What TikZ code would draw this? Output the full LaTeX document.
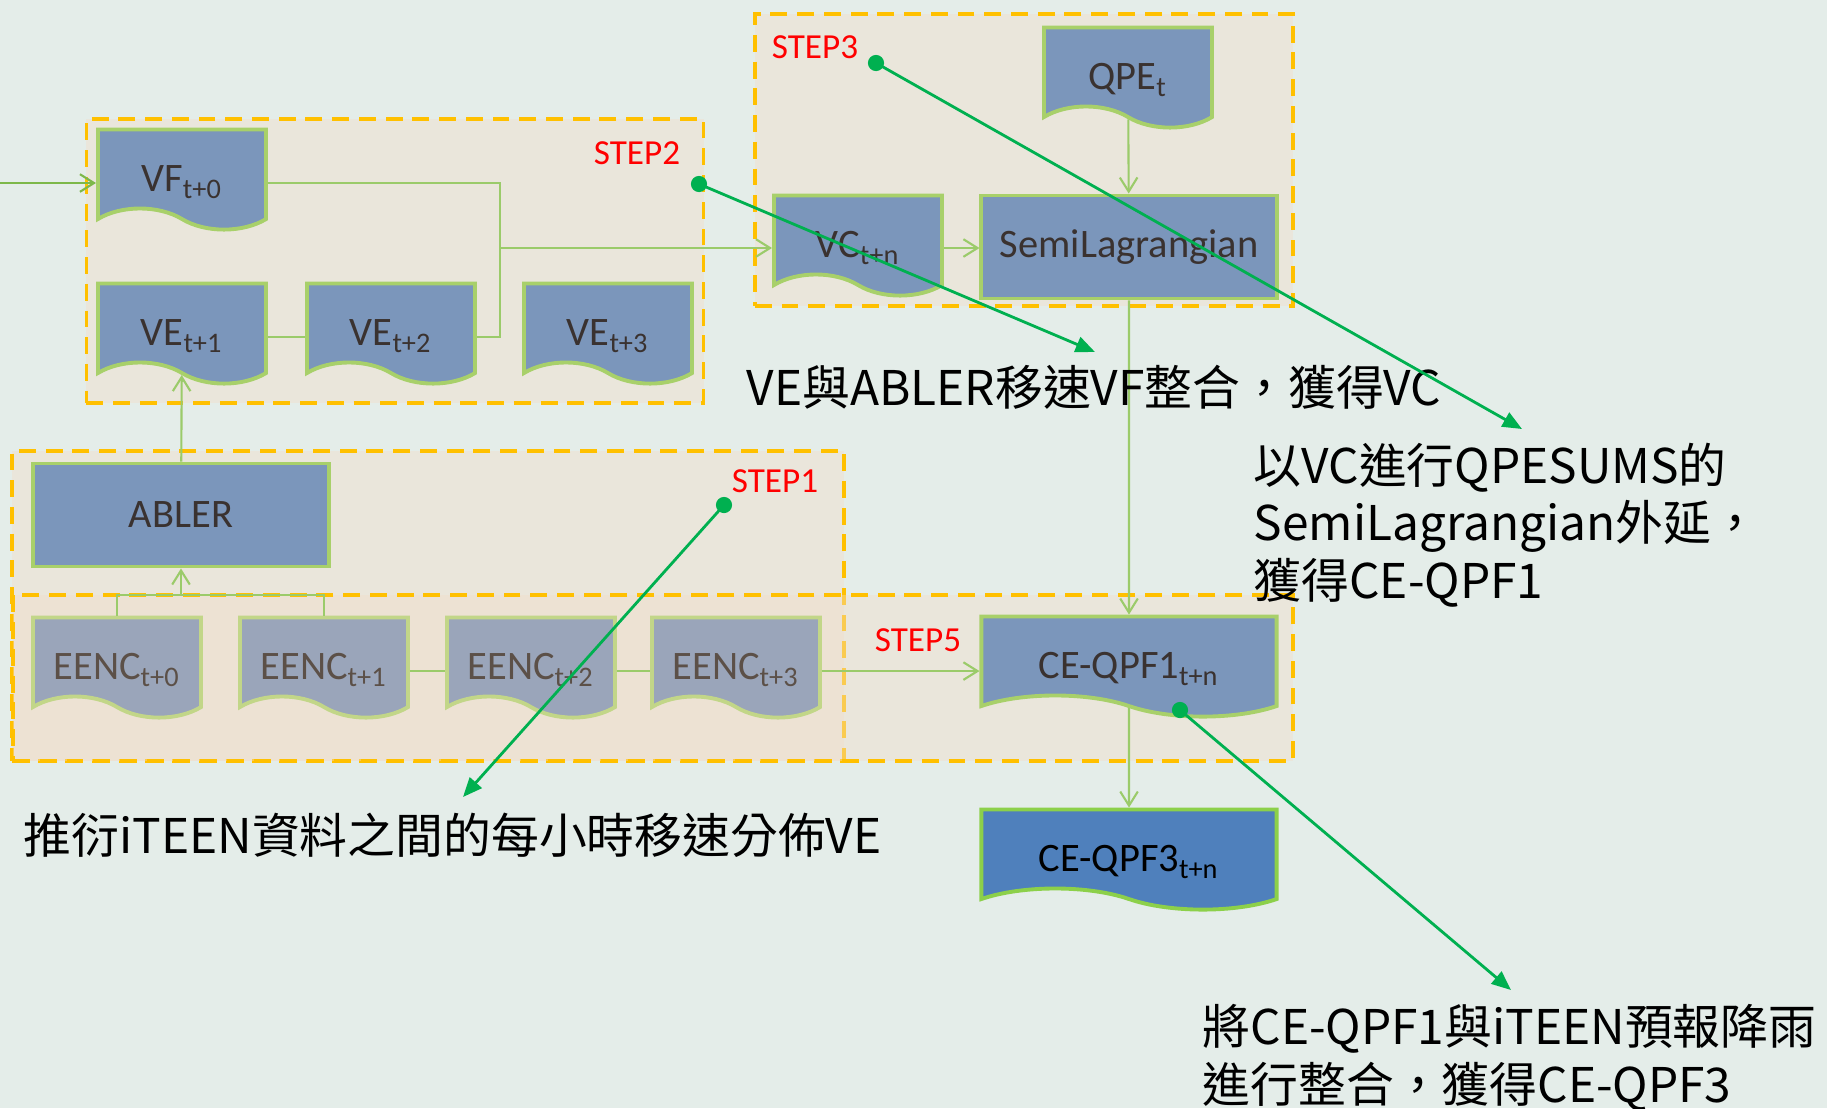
\documentclass[tikz,border=0pt]{standalone}
\usepackage{fontspec}
\setmainfont{Carlito}
\newfontfamily\cjkfont{Noto Sans CJK TC}
\usetikzlibrary{positioning,arrows.meta,shapes.symbols}
\definecolor{pagebg}{RGB}{228,237,233}
\definecolor{stepfill}{RGB}{243,220,200}
\definecolor{steporange}{RGB}{255,192,0}
\definecolor{stepred}{RGB}{255,0,0}
\definecolor{nodeblue}{RGB}{123,150,187}
\definecolor{eencblue}{RGB}{154,165,186}
\definecolor{qpfblue}{RGB}{79,128,188}
\definecolor{edgegreen}{RGB}{168,208,106}
\definecolor{eencedge}{RGB}{194,214,136}
\definecolor{qpfedge}{RGB}{140,208,74}
\definecolor{linkgreen}{RGB}{155,203,106}
\definecolor{feedgreen}{RGB}{125,184,74}
\definecolor{calloutgreen}{RGB}{0,176,80}
\definecolor{textgray}{RGB}{58,50,48}
\definecolor{eenctext}{RGB}{92,80,72}

\begin{document}
\begin{tikzpicture}[x=0.01cm,y=-0.01cm,
    every node/.style={font=\fontsize{11.5}{13}\selectfont},
    stepbox/.style={draw=steporange,line width=1pt,dash pattern=on 4.8pt off 2.8pt,fill=stepfill,fill opacity=0.4,draw opacity=1,inner sep=0pt},
    steplabel/.style={text=stepred,font=\fontsize{10}{12}\selectfont},
    docnode/.style={tape,tape bend top=none,tape bend bottom=out and in,tape bend height=6pt,draw=edgegreen,line width=1.1pt,fill=nodeblue,text=textgray,minimum width=1.68cm,minimum height=1cm,inner sep=1pt,text height=13pt,text depth=0pt},
    eencnode/.style={docnode,draw=eencedge,fill=eencblue,text=eenctext},
    boxnode/.style={rectangle,draw=edgegreen,line width=1.1pt,fill=nodeblue,text=textgray,minimum width=2.95cm,minimum height=1.03cm},
    link/.style={draw=linkgreen,line width=0.6pt},
    linkarrow/.style={link,-{Straight Barb[length=4pt,width=5pt]}},
    callout/.style={draw=calloutgreen,line width=0.8pt,-{Triangle[length=5.5pt,width=4.5pt]}},
    remark/.style={font=\cjkfont\fontsize{13.6}{16.4}\selectfont,text=black,inner sep=0pt,align=left}]
  \useasboundingbox (0,0) rectangle (1827,1108);
  \fill[pagebg] (0,0) rectangle (1827,1108);

  % step frames
  \node[stepbox,minimum width=8.32cm,minimum height=3.10cm] (step1box) at (428,606) {};
  \node[stepbox,minimum width=12.79cm,minimum height=1.66cm] (step5box) at (653,678) {};
  \node[stepbox,minimum width=6.17cm,minimum height=2.84cm] (step2box) at (395,261) {};
  \node[stepbox,minimum width=5.38cm,minimum height=2.92cm] (step3box) at (1024,160) {};
  \node[steplabel] (step1lbl) at (775,481) {STEP1};
  \node[steplabel] (step2lbl) at (637,153) {STEP2};
  \node[steplabel] (step3lbl) at (815,47) {STEP3};
  \node[steplabel] (step5lbl) at (918,640) {STEP5};

  % step 2
  \node[docnode] (vf) at (182,169) {VF\textsubscript{t+0}};
  \node[docnode] (ve1) at (182,323) {VE\textsubscript{t+1}};
  \node[docnode] (ve2) at (391,323) {VE\textsubscript{t+2}};
  \node[docnode] (ve3) at (608,323) {VE\textsubscript{t+3}};

  % step 3
  \node[docnode] (qpe) at (1128,67) {QPE\textsubscript{t}};
  \node[docnode] (vc) at (858,235) {VC\textsubscript{t+n}};
  \node[boxnode] (semi) at (1129,247) {SemiLagrangian};

  % step 1
  \node[boxnode] (abler) at (181,515) {ABLER};
  \node[eencnode] (eenc0) at (117,657) {EENC\textsubscript{t+0}};
  \node[eencnode] (eenc1) at (324,657) {EENC\textsubscript{t+1}};
  \node[eencnode] (eenc2) at (531,657) {EENC\textsubscript{t+2}};
  \node[eencnode] (eenc3) at (736,657) {EENC\textsubscript{t+3}};

  % step 5
  \node[docnode,minimum width=2.95cm] (qpf1) at (1129,656) {CE-QPF1\textsubscript{t+n}};
  \node[docnode,minimum width=2.95cm,fill=qpfblue,draw=qpfedge,text=black] (qpf3) at (1129,849) {CE-QPF3\textsubscript{t+n}};

  % links
  \coordinate (feed) at (0,183);
  \coordinate (vjoin) at (500,248);
  \coordinate (ejoin) at (181,595);
  \draw[linkarrow,draw=feedgreen] (feed) -- (feed -| vf.west);
  \draw[link] ([yshift=-4pt]vf.east) -| (vjoin);
  \draw[link] ([yshift=-4pt]ve2.east) -| (vjoin);
  \draw[link] ([yshift=-4pt]ve1.east) -- ([yshift=-4pt]ve2.west);
  \draw[linkarrow] (vjoin) -- (vjoin -| vc.west);
  \draw[linkarrow] (vjoin -| vc.east) -- (vjoin -| semi.west);
  \draw[linkarrow] (qpe) -- (semi);
  \draw[linkarrow] (semi) -- (qpf1);
  \draw[linkarrow] (qpf1) -- (qpf3);
  \draw[linkarrow] (abler) -- (ve1);
  \draw[link] (eenc0.north) |- (ejoin) -| (eenc1.north);
  \draw[linkarrow] (ejoin) -- (abler);
  \draw[link] ([yshift=-4pt]eenc1.east) -- ([yshift=-4pt]eenc2.west);
  \draw[link] ([yshift=-4pt]eenc2.east) -- ([yshift=-4pt]eenc3.west);
  \draw[linkarrow] ([yshift=-4pt]eenc3.east) -- ([yshift=-4pt]eenc3.east -| qpf1.west);

  % remarks
  \node[remark,anchor=base west] (noteve) at (23,853) {推衍iTEEN資料之間的每小時移速分佈VE};
  \node[remark,anchor=base west] (notevc) at (746,405) {VE與ABLER移速VF整合，獲得VC};
  \node[remark,anchor=north west] (noteqpf1) at (1253,442) {以VC進行QPESUMS的\\SemiLagrangian外延，\\獲得CE-QPF1};
  \node[remark,anchor=north west] (noteqpf3) at (1202,1004) {將CE-QPF1與iTEEN預報降雨\\進行整合，獲得CE-QPF3};

  % callouts
  \coordinate (dot1) at (724,505);
  \coordinate (dot2) at (699,184);
  \coordinate (dot3) at (876,63);
  \coordinate (dot5) at (1180,710);
  \coordinate (tip1) at (463,797);
  \coordinate (tip2) at (1095,352);
  \coordinate (tip3) at (1522,429);
  \coordinate (tip5) at (1511,990);
  \foreach \d in {dot1,dot2,dot3,dot5}
    \fill[calloutgreen] (\d) circle (2.3pt);
  \draw[callout] (dot1) -- (tip1);
  \draw[callout] (dot2) -- (tip2);
  \draw[callout] (dot3) -- (tip3);
  \draw[callout] (dot5) -- (tip5);
\end{tikzpicture}
\end{document}
